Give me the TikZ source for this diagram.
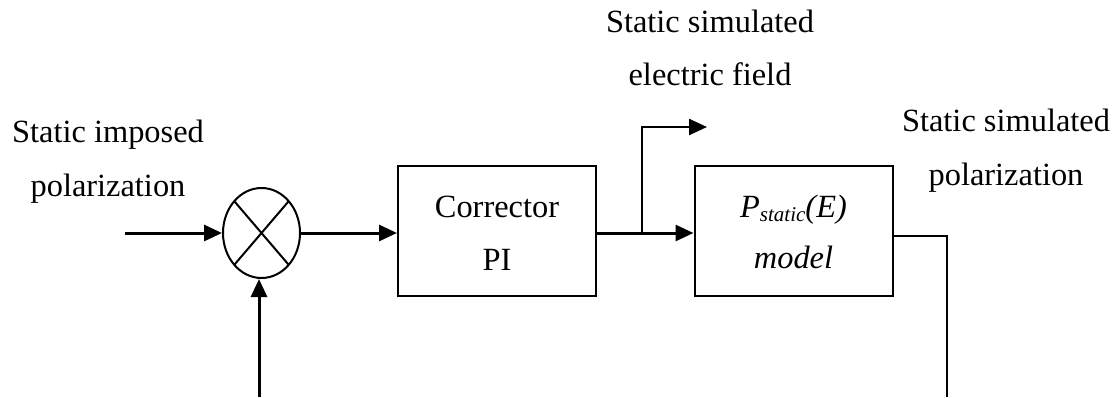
\documentclass[tikz,border=0pt]{standalone}
\usepackage{fontspec}
\setmainfont{Liberation Serif}
\usetikzlibrary{arrows.meta,shapes.geometric}
\begin{document}
\begin{tikzpicture}[x=1pt,y=-1pt,
  lbl/.style={font=\fontsize{32.4}{38}\selectfont, inner sep=0pt, anchor=base},
  blk/.style={draw, line width=2pt, minimum width=198pt, minimum height=130pt, inner sep=0pt},
  sig/.style={line width=3pt, -{Triangle[length=18pt,width=16pt]}},
  brsig/.style={line width=2.5pt, -{Triangle[length=18pt,width=16pt]}},
  wire/.style={line width=2pt}]
\useasboundingbox (0,0) rectangle (1119,397);
% blocks
\node[blk] (corr) at (497,231) {};
\node[blk] (model) at (793.5,231) {};
\node[draw, ellipse, line width=2pt, minimum width=77pt, minimum height=90pt, inner sep=0pt] (sum) at (261.5,233) {};
\draw[line width=2pt] ([shift={(-27.2,-31.8)}]sum.center) -- ([shift={(27.2,31.8)}]sum.center);
\draw[line width=2pt] ([shift={(-27.2,31.8)}]sum.center) -- ([shift={(27.2,-31.8)}]sum.center);
% coordinates
\coordinate (in) at (125,233);
\coordinate (br) at (642,233);
\coordinate (efield) at (707,127);
\coordinate (o1) at (947,236);
\coordinate (outc) at (947,397);
\coordinate (fb) at (259,397);
% connectors
\draw[sig] (in) -- (sum.west);
\draw[sig] (sum.east) -- (sum.east -| corr.west);
\draw[sig] (sum.east -| corr.east) -- (sum.east -| model.west);
\draw[brsig] (br) |- (efield);
\draw[wire] (o1 -| model.east) -- (o1) -- (outc);
\draw[sig] (fb) -- (fb |- sum.south);
% labels
\node[lbl] (inT1) at (108,142) {Static imposed};
\node[lbl] (inT2) at (108,196) {polarization};
\node[lbl] (efT1) at (710,32) {Static simulated};
\node[lbl] (efT2) at (710,85) {electric field};
\node[lbl] (outT1) at (1006,131) {Static simulated};
\node[lbl] (outT2) at (1006,185) {polarization};
\node[lbl] (corrT1) at (497,217) {Corrector};
\node[lbl] (corrT2) at (497,270) {PI};
\node[lbl] (modT1) at (793.5,217) {\itshape P\raisebox{-4pt}{\fontsize{21}{21}\selectfont static}(E)};
\node[lbl] (modT2) at (793.5,268) {\itshape model};
\end{tikzpicture}
\end{document}
